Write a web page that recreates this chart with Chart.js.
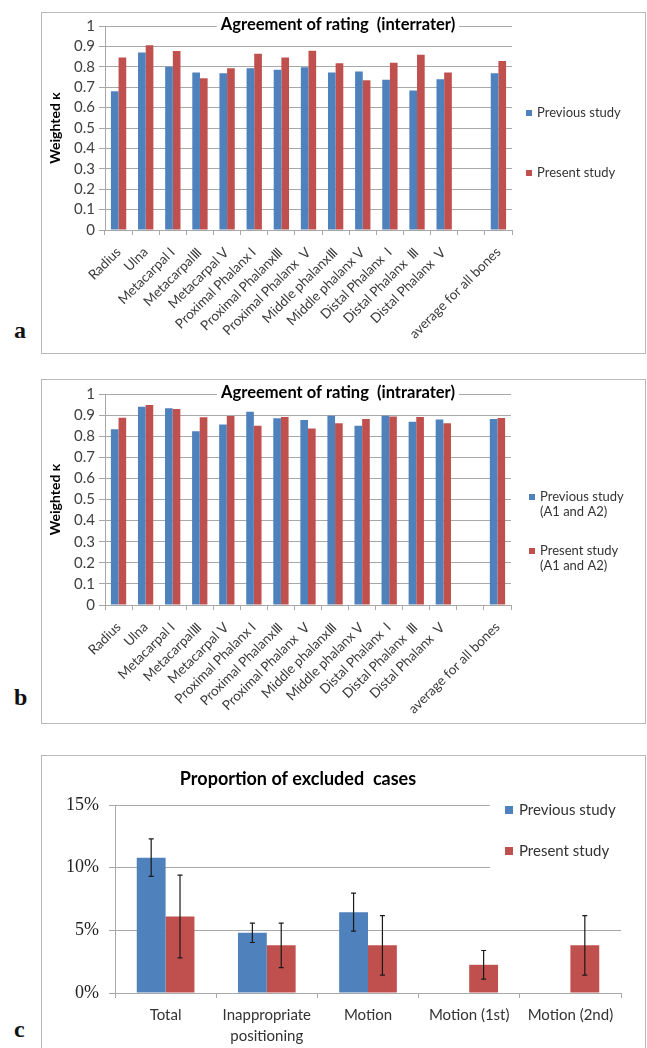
<!DOCTYPE html>
<html>
<head>
<meta charset="utf-8">
<script src="https://cdn.jsdelivr.net/npm/chart.js@4.4.1/dist/chart.umd.min.js"></script>
<style>
  body { margin: 0; background: #fff; width: 647px; height: 1048px; position: relative; overflow: hidden; }
  .frame { position: absolute; border: 1px solid #b8b8b8; box-sizing: border-box; }
  .frame canvas { position: absolute; left: 0; top: 0; }
  .tag { position: absolute; left: 14px; font: bold 24px "Liberation Serif", "Times New Roman", serif; line-height: 24px; color: #111; }
</style>
</head>
<body>
<div class="frame" style="left:41px;top:12px;width:605px;height:342px"><canvas id="chartA" width="603" height="340" style="width:603px;height:340px"></canvas></div>
<div class="tag" style="top:318px">a</div>
<div class="frame" style="left:41px;top:379px;width:605px;height:345px"><canvas id="chartB" width="603" height="343" style="width:603px;height:343px"></canvas></div>
<div class="tag" style="top:685px">b</div>
<div class="frame" style="left:41px;top:755px;width:605px;height:310px"><canvas id="chartC" width="603" height="292" style="width:603px;height:292px"></canvas></div>
<div class="tag" style="top:1017px">c</div>

<script>
// bones (the blank slot separates the average bar)
const boneLabels = ['Radius', 'Ulna', 'Metacarpal Ⅰ', 'MetacarpalⅢ', 'Metacarpal Ⅴ', 'Proximal Phalanx Ⅰ',
    'Proximal PhalanxⅢ', 'Proximal Phalanx  Ⅴ', 'Middle phalanxⅢ', 'Middle phalanx Ⅴ', 'Distal Phalanx  Ⅰ',
    'Distal Phalanx  Ⅲ', 'Distal Phalanx  Ⅴ', '', 'average for all bones'];

// a: interrater
const interPrevious = [0.68, 0.87, 0.80, 0.772, 0.768, 0.793, 0.786, 0.798, 0.772, 0.777, 0.736, 0.684, 0.739, null, 0.768];
const interPresent = [0.845, 0.906, 0.877, 0.744, 0.793, 0.864, 0.846, 0.879, 0.817, 0.734, 0.82, 0.859, 0.772, null, 0.829];

// b: intrarater
const intraPrevious = [0.833, 0.94, 0.932, 0.823, 0.855, 0.916, 0.885, 0.877, 0.897, 0.849, 0.897, 0.869, 0.879, null, 0.882];
const intraPresent = [0.888, 0.948, 0.929, 0.89, 0.896, 0.85, 0.891, 0.836, 0.861, 0.882, 0.893, 0.891, 0.861, null, 0.886];

// c: excluded cases (%), with error bars
const excludedLabels = ['Total', ['Inappropriate', 'positioning'], 'Motion', 'Motion (1st)', 'Motion (2nd)'];
const excludedPrevious = [10.8, 4.8, 6.45, null, null];
const excludedPreviousErr = [1.5, 0.77, 1.52, null, null];
const excludedPresent = [6.1, 3.8, 3.8, 2.25, 3.8];
const excludedPresentErr = [3.3, 1.77, 2.38, 1.14, 2.38];

const blue = '#4F81BD';
const red = '#C0504D';
const gridColor = '#a8a8a8';
const font = 'Lato, "Open Sans", sans-serif';

// title over the top gridline + legend drawn inside the frame, Excel style
const decor = {
    id: 'decor',
    beforeDatasetsDraw(chart, args, o) {
        const ctx = chart.ctx;
        ctx.save();
        ctx.fillStyle = '#fff';
        if (o.mask) ctx.fillRect(o.mask[0], o.mask[1], o.mask[2], o.mask[3]);
        ctx.font = o.titleFont;
        const w = ctx.measureText(o.title).width;
        ctx.fillRect(o.titleX - w / 2 - 4, o.titleY - 10, w + 8, 20);
        ctx.fillStyle = '#000';
        ctx.textAlign = 'center';
        ctx.textBaseline = 'middle';
        ctx.fillText(o.title, o.titleX, o.titleY);

        ctx.textAlign = 'left';
        ctx.font = o.legendFont;
        o.legend.forEach((lines, i) => {
            const y = o.legendY[i];
            ctx.fillStyle = chart.data.datasets[i].backgroundColor;
            ctx.fillRect(o.legendX, y - o.box / 2, o.box, o.box);
            ctx.fillStyle = '#333';
            lines.forEach((t, k) => ctx.fillText(t, o.legendX + o.box + o.gap, y + k * o.lineGap));
        });
        ctx.restore();
    }
};

const errorBars = {
    id: 'errorBars',
    afterDatasetsDraw(chart) {
        const ctx = chart.ctx;
        const y = chart.scales.y;
        ctx.save();
        ctx.strokeStyle = '#1a1a1a';
        ctx.lineWidth = 1.2;
        chart.data.datasets.forEach((ds, i) => {
            if (!ds.errors) return;
            chart.getDatasetMeta(i).data.forEach((bar, j) => {
                const v = ds.data[j], e = ds.errors[j];
                if (v == null || e == null) return;
                const top = y.getPixelForValue(v + e), bot = y.getPixelForValue(v - e);
                ctx.beginPath();
                ctx.moveTo(bar.x, top); ctx.lineTo(bar.x, bot);
                ctx.moveTo(bar.x - 2.5, top); ctx.lineTo(bar.x + 2.5, top);
                ctx.moveTo(bar.x - 2.5, bot); ctx.lineTo(bar.x + 2.5, bot);
                ctx.stroke();
            });
        });
        ctx.restore();
    }
};

function kappaChart(id, prev, pres, title, legend, legendY, size) {
    new Chart(document.getElementById(id), {
        type: 'bar',
        data: {
            labels: boneLabels,
            datasets: [
                { label: legend[0].join(' '), data: prev, backgroundColor: blue },
                { label: legend[1].join(' '), data: pres, backgroundColor: red }
            ]
        },
        options: {
            responsive: false,
            animation: false,
            layout: { padding: { left: 0, top: size.top, right: size.right, bottom: 0 } },
            datasets: { bar: { categoryPercentage: 0.565, barPercentage: 1 } },
            scales: {
                x: {
                    afterFit: (s) => { s.height = size.xh; },
                    grid: { display: true, drawOnChartArea: false, offset: true, tickLength: 5, color: gridColor },
                    border: { color: gridColor },
                    ticks: { autoSkip: false, minRotation: 45, maxRotation: 45, padding: 9, color: '#3a3a3a', font: { family: font, size: 13.5 } }
                },
                y: {
                    min: 0, max: 1,
                    afterFit: (s) => { s.width = 63; },
                    grid: { color: gridColor, tickLength: 6 },
                    border: { color: gridColor },
                    ticks: { stepSize: 0.1, autoSkip: false, padding: 4, color: '#404040', font: { family: font, size: 15 },
                        callback: (v) => String(+v.toFixed(1)) },
                    title: { display: true, text: 'Weighted κ', color: '#000', padding: { top: 5, bottom: 0 }, font: { family: font, size: 14, weight: 'bold' } }
                }
            },
            plugins: {
                legend: { display: false },
                tooltip: { enabled: false },
                decor: {
                    title: title, titleX: 296, titleY: size.titleY, titleFont: 'bold 16.5px ' + font,
                    legend: legend, legendX: size.legendX, legendY: legendY, box: 6, gap: 5, lineGap: 15,
                    legendFont: '13px ' + font
                }
            }
        },
        plugins: [decor]
    });
}

kappaChart('chartA', interPrevious, interPresent, 'Agreement of rating  (interrater)',
    [['Previous study'], ['Present study']], [100, 160],
    { top: 11, right: 133, xh: 123, titleY: 12, legendX: 484 });

kappaChart('chartB', intraPrevious, intraPresent, 'Agreement of rating  (intrarater)',
    [['Previous study', '(A1 and A2)'], ['Present study', '(A1 and A2)']], [117, 171],
    { top: 14, right: 134, xh: 118, titleY: 13, legendX: 487 });

new Chart(document.getElementById('chartC'), {
    type: 'bar',
    data: {
        labels: excludedLabels,
        datasets: [
            { label: 'Previous study', data: excludedPrevious, errors: excludedPreviousErr, backgroundColor: blue },
            { label: 'Present study', data: excludedPresent, errors: excludedPresentErr, backgroundColor: red }
        ]
    },
    options: {
        responsive: false,
        animation: false,
        layout: { padding: { left: 0, top: 49, right: 24, bottom: 0 } },
        datasets: { bar: { categoryPercentage: 0.57, barPercentage: 1 } },
        scales: {
            x: {
                afterFit: (s) => { s.height = 55; },
                grid: { display: true, drawOnChartArea: false, offset: true, tickLength: 5, color: gridColor },
                border: { color: gridColor },
                ticks: { autoSkip: false, maxRotation: 0, padding: 7, color: '#333', font: { family: font, size: 15, lineHeight: 1.38 } }
            },
            y: {
                min: 0, max: 15,
                afterFit: (s) => { s.width = 73; },
                grid: { color: gridColor, tickLength: 6 },
                border: { color: gridColor },
                ticks: { stepSize: 5, padding: 10, color: '#222', callback: (v) => v + '%',
                    font: { family: '"Liberation Serif", "Times New Roman", serif', size: 18 } }
            }
        },
        plugins: {
            legend: { display: false },
            tooltip: { enabled: false },
            decor: {
                title: 'Proportion of excluded  cases', titleX: 256, titleY: 23, titleFont: 'bold 18px ' + font,
                mask: [448, 42, 155, 82],
                legend: [['Previous study'], ['Present study']], legendX: 463, legendY: [54, 95], box: 8, gap: 6, lineGap: 0,
                legendFont: '15px ' + font
            }
        }
    },
    plugins: [decor, errorBars]
});
</script>
</body>
</html>
